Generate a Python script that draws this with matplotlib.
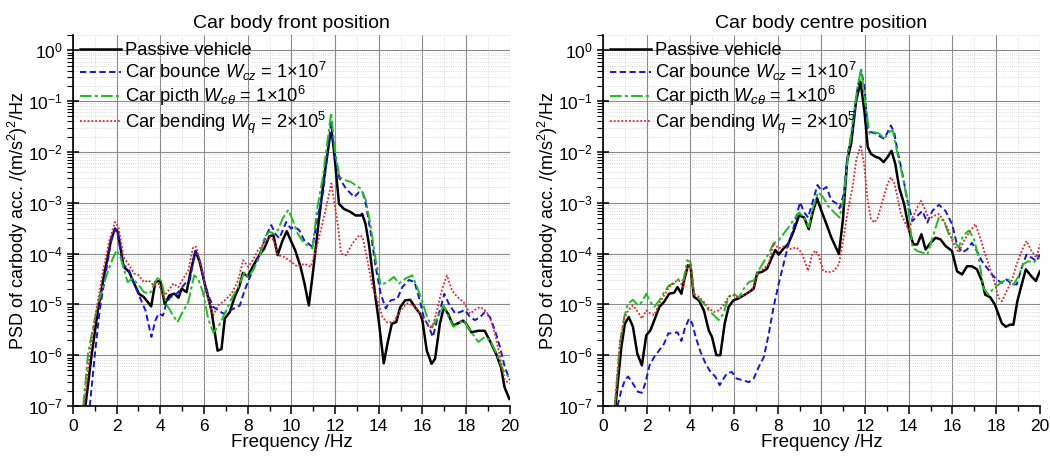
import numpy as np
import matplotlib
matplotlib.use('Agg')
import matplotlib.pyplot as plt
from matplotlib.ticker import LogLocator, MultipleLocator

plt.rcParams['font.family'] = ['Liberation Sans', 'DejaVu Sans']
plt.rcParams['mathtext.fontset'] = 'custom'
plt.rcParams['mathtext.rm'] = 'Liberation Sans'
plt.rcParams['mathtext.it'] = 'Liberation Sans:italic'
plt.rcParams['mathtext.bf'] = 'Liberation Sans:bold'

# PSD curves, stored as log10 of the PSD value /(m/s^2)^2/Hz
# ---- car body front position ----
front_passive_f = [0.57, 0.84, 1.14, 1.44, 1.74, 1.92, 2.05, 2.32, 2.57, 2.8, 3.02, 3.25, 3.58, 3.77, 3.99,
                   4.2, 4.42, 4.65, 4.83, 4.98, 5.2, 5.4, 5.61, 5.8, 6.03, 6.34, 6.62, 6.8, 6.95, 7.18, 7.4,
                   7.63, 7.78, 8.0, 8.23, 8.53, 8.76, 8.99, 9.18, 9.37, 9.59, 9.79, 9.97, 10.17, 10.42, 10.6,
                   10.8, 11.0, 11.23, 11.5, 11.76, 11.85, 11.95, 12.08, 12.18, 12.4, 12.7, 12.94, 13.17,
                   13.24, 13.39, 13.55, 13.7, 13.85, 14.0, 14.23, 14.41, 14.6, 14.8, 14.98, 15.21, 15.44,
                   15.67, 15.9, 16.0, 16.2, 16.42, 16.58, 16.8, 16.98, 17.18, 17.41, 17.64, 17.86, 18.0,
                   18.24, 18.55, 18.85, 19.08, 19.38, 19.6, 19.76, 19.98]
front_passive_lg = [-7.0, -6.04, -5.12, -4.39, -3.74, -3.51, -3.57, -4.26, -4.36, -4.59, -4.79, -4.86, -5.04,
                    -4.56, -4.53, -4.99, -4.82, -4.79, -4.87, -4.69, -4.76, -4.33, -3.95, -4.16, -4.59, -5.12,
                    -5.91, -5.88, -5.28, -5.15, -4.86, -4.63, -4.38, -4.45, -4.26, -4.03, -3.9, -3.66, -3.64,
                    -4.03, -3.75, -3.56, -3.74, -3.93, -4.26, -4.59, -5.02, -4.33, -3.45, -2.5, -1.71, -1.61,
                    -1.97, -2.56, -3.02, -3.12, -3.18, -3.25, -3.25, -3.22, -3.41, -3.81, -4.33, -4.86, -5.32,
                    -6.16, -5.75, -5.38, -5.35, -5.06, -4.92, -4.91, -5.06, -5.19, -5.32, -5.91, -6.17, -6.07,
                    -5.38, -5.06, -5.19, -5.42, -5.37, -5.32, -5.38, -5.55, -5.52, -5.52, -5.71, -5.98, -6.24,
                    -6.63, -6.86]

front_bounce_f = [0.77, 0.99, 1.22, 1.52, 1.74, 1.89, 2.02, 2.27, 2.57, 2.8, 3.02, 3.32, 3.59, 3.77, 3.92,
                  4.12, 4.27, 4.45, 4.68, 4.9, 5.13, 5.35, 5.58, 5.77, 6.03, 6.2, 6.42, 6.88, 7.33, 7.64,
                  7.86, 8.17, 8.55, 8.85, 9.08, 9.26, 9.45, 9.76, 9.98, 10.14, 10.36, 10.59, 10.97, 11.2,
                  11.47, 11.65, 11.82, 12.0, 12.2, 12.5, 12.88, 13.1, 13.26, 13.41, 13.64, 13.86, 14.09,
                  14.32, 14.55, 14.85, 15.08, 15.38, 15.64, 15.88, 16.06, 16.29, 16.48, 16.67, 16.89, 17.0,
                  17.2, 17.5, 17.73, 17.95, 18.18, 18.41, 18.64, 18.86, 19.09, 19.32, 19.55, 19.77, 20.0]
front_bounce_lg = [-7.0, -6.04, -5.12, -4.33, -3.77, -3.54, -3.53, -4.2, -4.33, -4.59, -4.82, -5.12, -5.64,
                   -5.32, -5.18, -5.22, -4.99, -4.86, -4.82, -4.72, -4.59, -4.53, -3.97, -4.07, -4.59, -4.82,
                   -5.05, -5.18, -5.09, -5.02, -4.72, -4.39, -4.0, -3.64, -3.44, -3.61, -3.7, -3.38, -3.51,
                   -3.47, -3.54, -3.74, -3.87, -3.28, -2.75, -2.0, -1.42, -2.1, -2.52, -2.72, -2.89, -2.79,
                   -2.79, -3.02, -3.61, -4.26, -4.79, -5.08, -4.92, -4.89, -4.66, -4.52, -4.56, -4.92, -5.25,
                   -5.44, -5.64, -5.31, -4.98, -4.79, -4.98, -5.18, -5.15, -5.11, -5.25, -5.31, -5.25, -5.15,
                   -5.25, -5.51, -5.84, -6.23, -6.49]

front_pitch_f = [0.47, 0.69, 0.92, 1.14, 1.37, 1.59, 1.82, 2.0, 2.17, 2.35, 2.5, 2.72, 2.95, 3.25, 3.52,
                 3.73, 3.92, 4.08, 4.27, 4.53, 4.78, 5.02, 5.28, 5.55, 5.73, 5.95, 6.2, 6.42, 6.65, 6.95,
                 7.26, 7.56, 7.86, 8.02, 8.24, 8.55, 8.77, 9.0, 9.2, 9.38, 9.6, 9.86, 10.06, 10.29, 10.59,
                 10.97, 11.17, 11.42, 11.62, 11.82, 12.0, 12.2, 12.5, 12.73, 12.95, 13.18, 13.41, 13.64,
                 13.86, 14.09, 14.39, 14.7, 14.92, 15.23, 15.53, 15.76, 15.98, 16.21, 16.44, 16.67, 16.97,
                 17.2, 17.42, 17.65, 17.88, 18.18, 18.56, 18.86, 19.09, 19.39, 19.7, 20.0]
front_pitch_lg = [-7.0, -5.97, -5.45, -4.99, -4.66, -4.36, -4.1, -3.93, -4.07, -4.33, -4.56, -4.49, -4.59,
                  -4.76, -4.79, -4.59, -4.45, -4.59, -4.99, -5.18, -5.35, -5.15, -4.95, -4.43, -4.49, -4.76,
                  -5.3, -5.55, -5.45, -5.18, -4.89, -4.66, -4.36, -4.46, -4.33, -4.07, -3.67, -3.57, -3.61,
                  -3.54, -3.31, -3.14, -3.34, -3.61, -3.8, -3.9, -3.14, -2.55, -1.9, -1.23, -1.97, -2.49,
                  -2.56, -2.59, -2.66, -2.72, -2.95, -3.48, -4.13, -4.62, -4.56, -4.46, -4.59, -4.49, -4.43,
                  -4.66, -4.92, -5.25, -5.44, -5.28, -5.02, -5.25, -5.44, -5.38, -5.31, -5.51, -5.74, -5.64,
                  -5.7, -5.97, -6.3, -6.46]

front_bending_f = [0.51, 0.77, 1.07, 1.37, 1.67, 1.92, 2.08, 2.32, 2.57, 2.8, 3.02, 3.25, 3.47, 3.7, 3.92,
                   4.15, 4.38, 4.6, 4.83, 5.05, 5.28, 5.5, 5.65, 5.88, 6.1, 6.2, 6.42, 6.65, 6.95, 7.26, 7.56,
                   7.79, 8.02, 8.24, 8.47, 8.77, 9.0, 9.2, 9.38, 9.68, 9.98, 10.29, 10.59, 10.89, 11.12, 11.35,
                   11.58, 11.83, 12.12, 12.27, 12.5, 12.8, 13.1, 13.26, 13.48, 13.71, 13.94, 14.17, 14.39,
                   14.7, 15.0, 15.3, 15.6, 15.91, 16.21, 16.44, 16.67, 16.89, 17.12, 17.35, 17.58, 17.88,
                   18.18, 18.41, 18.64, 18.86, 19.09, 19.32, 19.55, 19.77, 20.0]
front_bending_lg = [-7.0, -5.97, -5.12, -4.36, -3.74, -3.38, -3.47, -4.07, -4.23, -4.39, -4.43, -4.56, -4.53,
                    -4.63, -4.59, -4.86, -4.72, -4.59, -4.66, -4.49, -4.33, -3.87, -3.87, -4.26, -4.75, -4.92,
                    -5.22, -5.02, -4.92, -4.79, -4.53, -4.13, -4.26, -4.13, -3.93, -3.8, -3.67, -3.74, -4.03,
                    -4.07, -4.16, -4.26, -4.2, -4.26, -3.93, -3.54, -3.11, -2.62, -3.41, -4.0, -4.03, -3.8,
                    -3.64, -3.67, -4.13, -4.66, -4.92, -5.25, -5.36, -5.34, -5.11, -4.98, -5.02, -5.18, -5.38,
                    -5.48, -5.11, -4.72, -4.43, -4.72, -4.85, -4.95, -5.18, -5.11, -5.05, -5.11, -5.25, -5.57,
                    -6.03, -6.49, -6.56]

# ---- car body centre position ----
centre_passive_f = [0.57, 0.84, 1.0, 1.18, 1.37, 1.57, 1.78, 1.98, 2.17, 2.35, 2.58, 2.8, 3.03, 3.26, 3.41,
                    3.59, 3.71, 3.89, 4.01, 4.16, 4.39, 4.62, 4.84, 4.99, 5.19, 5.37, 5.57, 5.75, 5.97, 6.22,
                    6.45, 6.68, 6.9, 7.06, 7.28, 7.51, 7.74, 7.89, 8.04, 8.27, 8.48, 8.71, 8.98, 9.21, 9.42,
                    9.62, 9.8, 10.0, 10.23, 10.45, 10.8, 10.98, 11.18, 11.36, 11.59, 11.79, 11.97, 12.12,
                    12.27, 12.5, 12.65, 12.85, 13.03, 13.21, 13.38, 13.56, 13.79, 14.02, 14.21, 14.39, 14.58,
                    14.77, 15.0, 15.23, 15.45, 15.68, 15.98, 16.21, 16.44, 16.67, 16.89, 17.12, 17.35, 17.5,
                    17.73, 17.95, 18.11, 18.26, 18.44, 18.64, 18.79, 18.97, 19.17, 19.36, 19.62, 19.82, 20.0]
centre_passive_lg = [-7.0, -5.84, -5.38, -5.25, -5.44, -5.97, -6.2, -5.61, -5.51, -5.31, -5.05, -4.95, -4.79,
                     -4.77, -4.66, -4.79, -4.53, -4.23, -4.25, -4.85, -4.92, -5.12, -5.51, -5.64, -6.0, -6.0,
                     -5.38, -5.05, -4.92, -4.88, -4.82, -4.76, -4.69, -4.38, -4.36, -4.3, -4.07, -3.93, -4.02,
                     -3.9, -3.81, -3.58, -3.25, -3.29, -3.52, -3.16, -2.91, -3.16, -3.42, -3.68, -4.01, -3.35,
                     -2.17, -1.84, -0.99, -0.62, -1.2, -1.9, -2.04, -2.1, -2.12, -2.2, -2.1, -1.98, -2.23,
                     -2.7, -3.03, -3.55, -3.82, -3.82, -3.62, -3.92, -3.79, -3.69, -3.72, -3.85, -3.95, -4.35,
                     -4.41, -4.25, -4.25, -4.31, -4.54, -4.81, -4.86, -5.01, -5.2, -5.37, -5.44, -5.4, -5.4,
                     -4.94, -4.61, -4.31, -4.45, -4.54, -4.35]

centre_bounce_f = [0.66, 0.84, 1.0, 1.15, 1.37, 1.6, 1.78, 1.93, 2.13, 2.35, 2.58, 2.8, 2.99, 3.18, 3.41,
                   3.59, 3.74, 3.94, 4.09, 4.24, 4.46, 4.69, 4.92, 5.14, 5.34, 5.52, 5.67, 5.9, 6.12, 6.45,
                   6.68, 6.9, 7.13, 7.36, 7.59, 7.81, 8.04, 8.27, 8.5, 8.72, 9.02, 9.21, 9.39, 9.62, 9.82,
                   10.0, 10.23, 10.45, 10.68, 10.83, 11.03, 11.21, 11.44, 11.64, 11.82, 11.97, 12.12, 12.27,
                   12.5, 12.73, 12.88, 13.03, 13.18, 13.33, 13.48, 13.71, 13.94, 14.17, 14.39, 14.62, 14.85,
                   15.08, 15.38, 15.68, 15.98, 16.21, 16.44, 16.67, 16.89, 17.12, 17.35, 17.58, 17.8, 18.03,
                   18.26, 18.48, 18.71, 18.94, 19.17, 19.39, 19.62, 19.85, 20.0]
centre_bounce_lg = [-7.0, -6.69, -6.49, -6.42, -6.56, -6.72, -6.74, -6.56, -6.2, -6.03, -5.9, -5.77, -5.57,
                    -5.57, -5.55, -5.72, -5.48, -5.28, -5.38, -5.64, -5.93, -6.16, -6.33, -6.42, -6.59, -6.46,
                    -6.36, -6.33, -6.46, -6.5, -6.53, -6.46, -6.23, -6.04, -5.58, -5.05, -4.6, -4.2, -3.8,
                    -3.5, -2.99, -3.19, -3.29, -2.95, -2.65, -2.76, -2.69, -2.95, -3.01, -3.11, -2.82, -2.03,
                    -1.51, -0.79, -0.39, -0.72, -1.54, -1.61, -1.64, -1.71, -1.74, -1.61, -1.48, -1.61, -1.97,
                    -2.43, -2.96, -3.36, -3.26, -3.16, -3.39, -3.16, -3.04, -3.16, -3.42, -3.82, -3.98, -3.92,
                    -3.79, -3.95, -4.15, -4.28, -4.41, -4.51, -4.58, -4.51, -4.6, -4.61, -4.28, -4.02, -4.08,
                    -4.15, -4.02]

centre_pitch_f = [0.54, 0.77, 0.97, 1.15, 1.37, 1.6, 1.78, 1.98, 2.17, 2.35, 2.58, 2.8, 3.03, 3.26, 3.48,
                  3.68, 3.86, 4.01, 4.16, 4.39, 4.62, 4.84, 5.07, 5.29, 5.52, 5.75, 5.97, 6.22, 6.45, 6.68,
                  6.9, 7.13, 7.36, 7.59, 7.81, 8.04, 8.27, 8.5, 8.72, 8.98, 9.21, 9.42, 9.62, 9.85, 10.08,
                  10.3, 10.58, 10.83, 11.03, 11.21, 11.44, 11.64, 11.82, 12.0, 12.2, 12.42, 12.65, 12.88,
                  13.11, 13.26, 13.45, 13.71, 13.94, 14.17, 14.39, 14.62, 14.85, 15.08, 15.38, 15.61, 15.83,
                  16.06, 16.29, 16.48, 16.74, 16.97, 17.2, 17.42, 17.65, 17.88, 18.11, 18.33, 18.56, 18.79,
                  19.02, 19.24, 19.47, 19.7, 20.0]
centre_pitch_lg = [-7.0, -5.77, -5.25, -4.98, -4.91, -5.02, -4.95, -4.79, -4.95, -5.05, -4.92, -4.76, -4.62,
                   -4.59, -4.49, -4.53, -4.13, -4.17, -4.79, -4.89, -4.98, -5.12, -5.21, -5.31, -5.18, -4.85,
                   -4.79, -4.86, -4.69, -4.56, -4.53, -4.33, -4.16, -4.0, -3.8, -3.74, -3.61, -3.48, -3.34,
                   -3.19, -3.29, -3.48, -3.09, -2.79, -2.89, -3.06, -3.19, -3.29, -2.89, -2.1, -1.38, -0.76,
                   -0.36, -1.0, -1.64, -1.61, -1.64, -1.74, -1.61, -1.57, -1.97, -2.47, -2.96, -3.88, -3.95,
                   -3.98, -4.02, -3.69, -3.29, -3.36, -3.62, -3.75, -3.88, -3.65, -3.55, -3.69, -4.08, -4.68,
                   -4.81, -4.68, -4.61, -4.54, -4.51, -4.61, -4.45, -4.21, -4.15, -4.18, -4.08]

centre_bending_f = [0.54, 0.77, 0.97, 1.15, 1.37, 1.6, 1.78, 1.98, 2.17, 2.35, 2.58, 2.8, 3.03, 3.26, 3.48,
                    3.68, 3.86, 4.01, 4.16, 4.39, 4.62, 4.84, 5.07, 5.29, 5.52, 5.75, 5.97, 6.22, 6.45, 6.68,
                    6.9, 7.13, 7.36, 7.59, 7.81, 8.04, 8.26, 8.56, 8.86, 9.09, 9.39, 9.58, 9.73, 9.88, 10.08,
                    10.3, 10.58, 10.8, 10.98, 11.21, 11.44, 11.59, 11.8, 11.97, 12.12, 12.27, 12.42, 12.58,
                    12.8, 13.03, 13.18, 13.33, 13.48, 13.64, 13.86, 14.02, 14.17, 14.39, 14.55, 14.7, 14.92,
                    15.15, 15.38, 15.61, 15.83, 16.06, 16.29, 16.52, 16.82, 17.05, 17.27, 17.5, 17.73, 17.91,
                    18.11, 18.26, 18.48, 18.71, 18.94, 19.17, 19.39, 19.62, 19.85, 20.0]
centre_bending_lg = [-7.0, -5.77, -5.28, -5.12, -5.02, -5.15, -5.28, -5.12, -5.18, -5.21, -4.98, -4.82,
                     -4.66, -4.56, -4.53, -4.66, -4.26, -4.2, -4.79, -4.85, -4.95, -5.08, -5.15, -5.12, -5.02,
                     -4.85, -4.82, -4.88, -4.82, -4.76, -4.66, -4.36, -4.3, -4.2, -3.8, -3.9, -3.86, -3.91,
                     -3.88, -3.98, -4.34, -4.01, -3.94, -4.04, -4.34, -4.37, -4.34, -4.21, -3.78, -3.16, -2.66,
                     -2.17, -1.86, -2.3, -2.96, -3.32, -3.39, -3.29, -2.96, -2.63, -2.5, -2.6, -2.89, -3.22,
                     -3.42, -3.55, -3.29, -3.09, -2.96, -3.09, -3.32, -3.26, -3.22, -3.36, -3.55, -3.82, -3.98,
                     -3.75, -3.55, -3.42, -3.69, -4.02, -4.31, -4.54, -4.87, -4.94, -4.74, -4.54, -4.21, -3.95,
                     -3.75, -3.95, -4.08, -3.82]

labels = ['Passive vehicle',
          'Car bounce $W_{cz}$ = 1×10$^{7}$',
          'Car picth $W_{c\\theta}$ = 1×10$^{6}$',
          'Car bending $W_{q}$ = 2×10$^{5}$']
titles = ['Car body front position', 'Car body centre position']

styles = [dict(color='black', linestyle='-', linewidth=1.8),
          dict(color='#1414e6', linestyle=(0, (3.2, 1.8)), linewidth=1.4),
          dict(color='#1cc01c', linestyle=(0, (6, 1.6, 1.6, 1.6)), linewidth=1.4),
          dict(color='#e8202a', linestyle=(0, (1, 1.1)), linewidth=1.3)]

panels = [
    [(front_passive_f, front_passive_lg), (front_bounce_f, front_bounce_lg),
     (front_pitch_f, front_pitch_lg), (front_bending_f, front_bending_lg)],
    [(centre_passive_f, centre_passive_lg), (centre_bounce_f, centre_bounce_lg),
     (centre_pitch_f, centre_pitch_lg), (centre_bending_f, centre_bending_lg)],
]

fig = plt.figure(figsize=(10.5, 4.63), dpi=100)
lefts = [0.0695, 0.5743]

for i, series in enumerate(panels):
    ax = fig.add_axes([lefts[i], 0.1231, 0.416, 0.8013])
    for (f, lg), st, lab in zip(series, styles, labels):
        ax.plot(f, 10.0 ** np.array(lg), label=lab, **st)

    ax.set_yscale('log')
    ax.set_xlim(0, 20)
    ax.set_ylim(1e-7, 2.0)
    ax.xaxis.set_major_locator(MultipleLocator(2))
    ax.xaxis.set_minor_locator(MultipleLocator(1))
    ax.yaxis.set_major_locator(LogLocator(base=10, numticks=20))
    ax.yaxis.set_minor_locator(LogLocator(base=10, subs=np.arange(2, 10), numticks=20))

    ax.grid(which='major', color='#8a8a8a', linewidth=0.8)
    ax.grid(which='minor', color='#cfcfcf', linewidth=0.6, linestyle=':')
    ax.set_axisbelow(True)

    for s in ['top', 'right']:
        ax.spines[s].set_visible(False)
    for s in ['left', 'bottom']:
        ax.spines[s].set_linewidth(1.2)

    ax.tick_params(axis='both', which='major', labelsize=12.5, width=1.1)
    ax.tick_params(axis='y', which='major', direction='inout', length=8)
    ax.tick_params(axis='y', which='minor', direction='out', length=4, width=0.8)
    ax.tick_params(axis='x', which='major', direction='out', length=6)
    ax.tick_params(axis='x', which='minor', direction='out', length=3.5, width=1.0)

    ax.set_xlabel('Frequency /Hz', fontsize=13.5, labelpad=0)
    ax.set_ylabel('PSD of carbody acc. /(m/s$^{2}$)$^{2}$/Hz', fontsize=13, labelpad=-1.5)
    ax.set_title(titles[i], fontsize=14, pad=5)

    ax.legend(loc='upper left', bbox_to_anchor=(0, 1.0), frameon=False, fontsize=13.2,
              handlelength=2.2, handletextpad=0.25, borderaxespad=0, borderpad=0.4,
              labelspacing=0.05)

fig.savefig('out.png', dpi=100)
